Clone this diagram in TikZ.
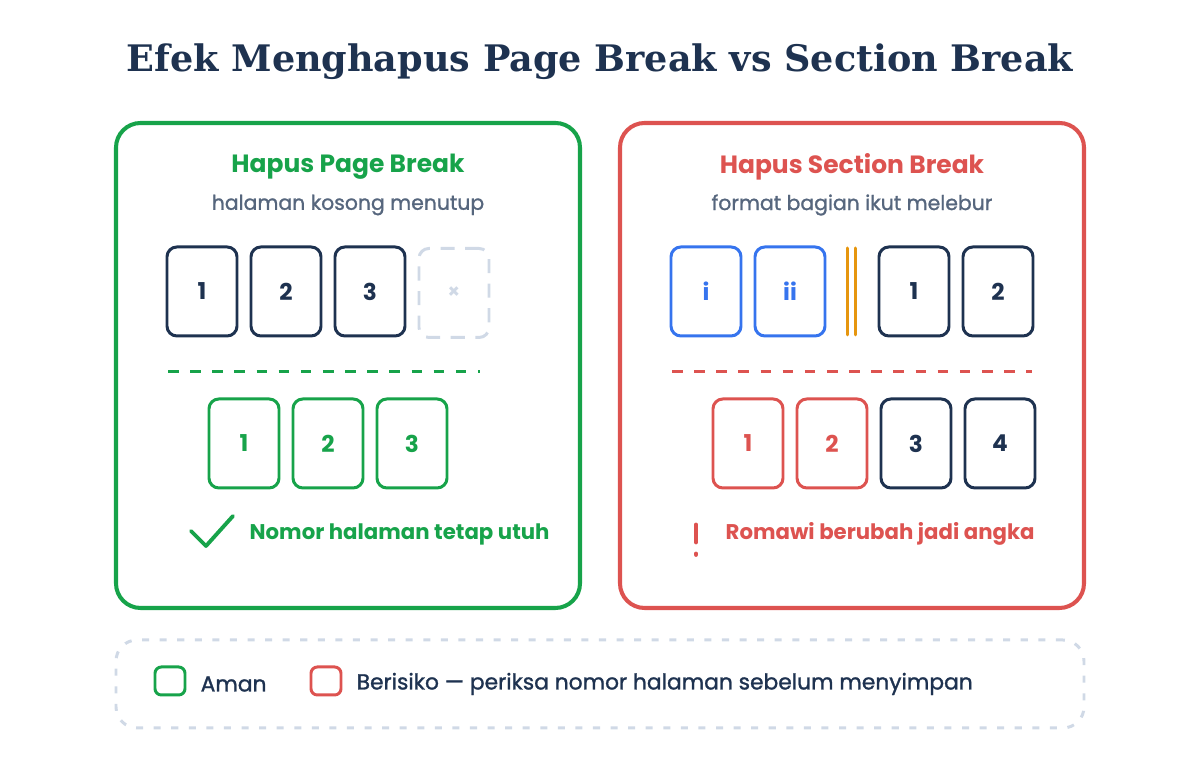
\documentclass[tikz,border=0pt]{standalone}
\usepackage{fontspec}
\setmainfont{Poppins}
\newfontfamily\headserif{DejaVu Serif}
\newfontfamily\medsans[FakeBold=1.2,Ligatures=TeX]{Poppins}
\usetikzlibrary{positioning}

\definecolor{ink}{HTML}{1E3250}
\definecolor{okgreen}{HTML}{17A34A}
\definecolor{riskred}{HTML}{DD5350}
\definecolor{romanblue}{HTML}{3674EE}
\definecolor{breakorange}{HTML}{E6960F}
\definecolor{mutedgray}{HTML}{56667D}
\definecolor{ghost}{HTML}{D0D9E6}

\begin{document}
\begin{tikzpicture}[
  every node/.style={font=\fontsize{7}{8}\selectfont},
  panel/.style={draw, line width=1.15pt, rounded corners=7pt,
                minimum width=4.64cm, minimum height=4.85cm},
  pagebox/.style={draw, line width=0.85pt, rounded corners=2.8pt,
                  minimum width=7mm, minimum height=8.9mm, inner sep=0pt,
                  font=\fontsize{6.6}{7}\selectfont\bfseries},
  heading/.style={font=\fontsize{7.1}{8}\selectfont\bfseries},
  subline/.style={text=mutedgray, font=\fontsize{5.8}{7}\selectfont\medsans},
  verdict/.style={font=\fontsize{6.05}{7}\selectfont\bfseries, anchor=west,
                  inner sep=0pt},
  keybox/.style={draw, line width=0.85pt, rounded corners=1.8pt,
                 minimum width=3mm, minimum height=2.8mm, inner sep=0pt},
  keytext/.style={anchor=west, inner sep=0pt, text=ink,
                  font=\fontsize{6.2}{7}\selectfont\medsans},
]
\useasboundingbox (0,0) rectangle (12,-7.6);

% title
\node[text=ink, font=\fontsize{10.4}{12}\selectfont\headserif\bfseries]
  (title) at (6,-0.62) {Efek Menghapus Page Break vs Section Break};

% left panel: page break
\node[panel, draw=okgreen] (left) at (3.48,-3.655) {};
\node[heading, text=okgreen] (lhead) at (3.48,-1.67) {Hapus Page Break};
\node[subline] (lsub) at (3.48,-2.05) {halaman kosong menutup};

\node[pagebox, draw=ink, text=ink] (la) at (2.02,-2.915) {1};
\node[pagebox, draw=ink, text=ink] (lb) at (2.86,-2.915) {2};
\node[pagebox, draw=ink, text=ink] (lc) at (3.70,-2.915) {3};
\node[pagebox, draw=ghost, text=ghost, dash pattern=on 4pt off 3pt,
      font=\fontsize{5.6}{6}\selectfont\bfseries]
  (ld) at (4.54,-2.93) {×};

\draw[okgreen, line width=0.85pt, dash pattern=on 3pt off 3.3pt]
  (1.68,-3.72) -- (4.80,-3.72);

\node[pagebox, draw=okgreen, text=okgreen] (lx) at (2.44,-4.435) {1};
\node[pagebox, draw=okgreen, text=okgreen] (ly) at (3.28,-4.435) {2};
\node[pagebox, draw=okgreen, text=okgreen] (lz) at (4.12,-4.435) {3};

\draw[okgreen, line width=1.1pt, line cap=round, line join=round]
  (1.91,-5.31) -- (2.06,-5.46) -- (2.33,-5.16);
\node[verdict, text=okgreen] (lok) at (2.49,-5.34) {Nomor halaman tetap utuh};

% right panel: section break
\node[panel, draw=riskred] (right) at (8.52,-3.655) {};
\node[heading, text=riskred] (rhead) at (8.52,-1.67) {Hapus Section Break};
\node[subline] (rsub) at (8.52,-2.05) {format bagian ikut melebur};

\node[pagebox, draw=romanblue, text=romanblue] (ra) at (7.06,-2.915) {i};
\node[pagebox, draw=romanblue, text=romanblue] (rb) at (7.90,-2.915) {ii};
\draw[breakorange, line width=0.85pt, line cap=round]
  (8.478,-2.48) -- (8.478,-3.35) (8.558,-2.48) -- (8.558,-3.35);
\node[pagebox, draw=ink, text=ink] (rc) at (9.14,-2.915) {1};
\node[pagebox, draw=ink, text=ink] (rd) at (9.98,-2.915) {2};

\draw[riskred, line width=0.85pt, dash pattern=on 3pt off 3.3pt]
  (6.72,-3.72) -- (10.32,-3.72);

\node[pagebox, draw=riskred, text=riskred] (rw) at (7.48,-4.435) {1};
\node[pagebox, draw=riskred, text=riskred] (rx) at (8.32,-4.435) {2};
\node[pagebox, draw=ink, text=ink] (ry) at (9.16,-4.435) {3};
\node[pagebox, draw=ink, text=ink] (rz) at (10.00,-4.435) {4};

\draw[riskred, line width=1.4pt, line cap=round]
  (6.96,-5.25) -- (6.96,-5.42) (6.96,-5.54) -- (6.96,-5.545);
\node[verdict, text=riskred] (rwarn) at (7.25,-5.34) {Romawi berubah jadi angka};

% legend
\node[draw=ghost, line width=0.85pt, dash pattern=on 2pt off 3pt,
      rounded corners=6pt, minimum width=9.68cm, minimum height=0.88cm]
  (legend) at (6,-6.84) {};
\node[keybox, draw=okgreen] (keyok) at (1.70,-6.81) {};
\node[keytext] (keyoklbl) at (2.00,-6.84) {Aman};
\node[keybox, draw=riskred] (keyrisk) at (3.26,-6.81) {};
\node[keytext] (keyrisklbl) at (3.56,-6.84)
  {Berisiko — periksa nomor halaman sebelum menyimpan};
\end{tikzpicture}
\end{document}
